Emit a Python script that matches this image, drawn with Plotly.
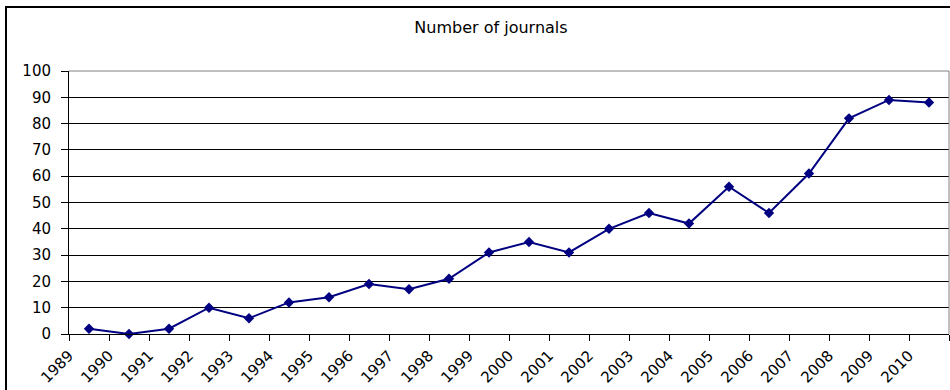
import plotly.graph_objects as go

years = [str(y) for y in range(1989, 2011)]
journals = [2, 0, 2, 10, 6, 12, 14, 19, 17, 21, 31, 35, 31, 40, 46, 42, 56, 46, 61, 82, 89, 88]
y_ticks = list(range(0, 101, 10))

xpos = [i + 0.5 for i in range(len(years))]
tickvals = list(range(len(years) + 1))
ticktext = years + [""]

fig = go.Figure()
fig.add_trace(go.Scatter(
    x=xpos, y=journals, mode="lines+markers",
    line=dict(color="#000080", width=2),
    marker=dict(symbol="diamond", size=8, color="#000080"),
    showlegend=False, cliponaxis=False,
))

L, R, T, B = 69, 1, 71, 56
W, H = 950, 390
pw, ph = W - L - R, H - T - B

def px2paper_x(px):
    return (px - L) / pw

def px2paper_y(py):
    return (H - B - py) / ph

fig.update_layout(
    width=W, height=H,
    margin=dict(l=L, r=R, t=T, b=B),
    paper_bgcolor="white", plot_bgcolor="white",
    font=dict(family="DejaVu Sans, Arial, sans-serif", size=15, color="black"),
    title=dict(text="Number of journals", x=491 / W, xanchor="center",
               y=1 - 27.5 / H, yanchor="middle", font=dict(size=16)),
    xaxis=dict(range=[0, len(years)], tickmode="array", tickvals=tickvals, ticktext=ticktext,
               tickangle=-45, showgrid=False, zeroline=False,
               showline=True, linecolor="black", linewidth=1,
               ticks="outside", ticklen=6, tickcolor="black", tickwidth=1),
    yaxis=dict(range=[0, 100], tickmode="array", tickvals=y_ticks,
               showgrid=True, gridcolor="black", gridwidth=1, zeroline=False,
               showline=True, linecolor="black", linewidth=1,
               ticks="outside", ticklen=7, tickcolor="black", tickwidth=1,
               ticklabelstandoff=7),
    shapes=[
        dict(type="line", xref="paper", yref="paper", x0=0, x1=1, y0=1, y1=1,
             line=dict(color="#808080", width=1), layer="above"),
        dict(type="line", xref="paper", yref="paper", x0=1, x1=1, y0=0, y1=1,
             line=dict(color="#808080", width=1), layer="above"),
        dict(type="rect", xref="paper", yref="paper",
             x0=px2paper_x(6), x1=px2paper_x(960), y0=px2paper_y(400), y1=px2paper_y(7),
             line=dict(color="black", width=2), layer="above"),
    ],
)

fig.write_html("out.html")
